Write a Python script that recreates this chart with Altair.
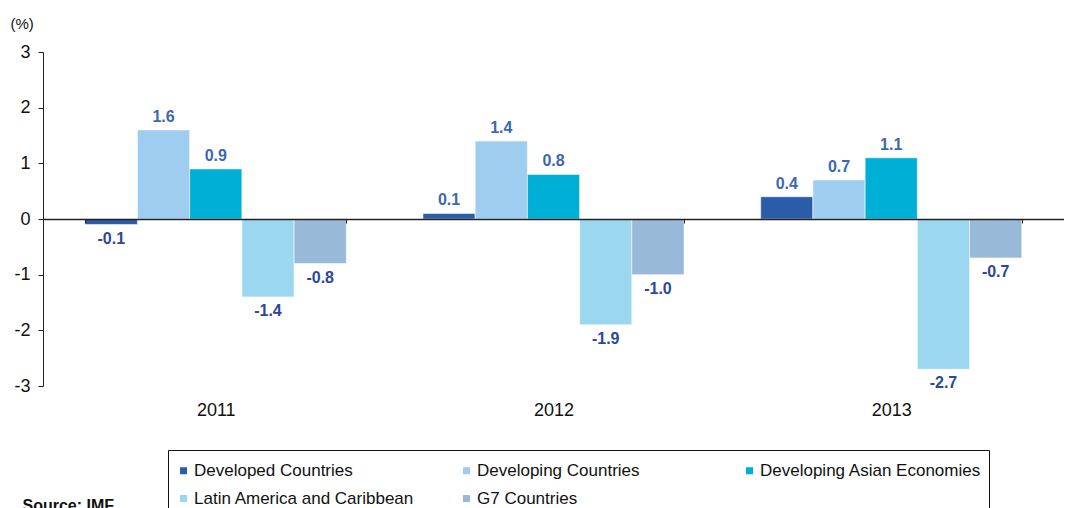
import altair as alt
import pandas as pd

years = ["2011", "2012", "2013"]
series = ["Developed Countries", "Developing Countries", "Developing Asian Economies",
          "Latin America and Caribbean", "G7 Countries"]
developed = [-0.1, 0.1, 0.4]
developing = [1.6, 1.4, 0.7]
asian = [0.9, 0.8, 1.1]
latin = [-1.4, -1.9, -2.7]
g7 = [-0.8, -1.0, -0.7]
colors = ["#2a5caa", "#9ecdef", "#00afd6", "#9bd8f0", "#98b9d7"]
y_ticks = [-3, -2, -1, 0, 1, 2, 3]

rows = []
for name, vals in zip(series, [developed, developing, asian, latin, g7]):
    for yr, v in zip(years, vals):
        rows.append({"year": yr, "series": name, "value": v})
df = pd.DataFrame(rows)

FONT = "Liberation Sans, Arial, Helvetica, sans-serif"
LABEL_EXPR = "datum.value < 0 ? '-' + format(-datum.value, '.1f') : format(datum.value, '.1f')"

x_enc = alt.X("year:N", sort=years,
              scale=alt.Scale(paddingInner=0.227, paddingOuter=0.125),
              axis=alt.Axis(orient="bottom", offset=-167, domain=True, domainColor="#222",
                            domainWidth=1.3, ticks=True, tickBand="extent", tickSize=4,
                            tickColor="#222", labelPadding=178, labelFontSize=18,
                            labelColor="#111", labelAngle=0, title="Source: IMF",
                            titleX=-21, titleY=278, titleAlign="left", titleBaseline="top",
                            titleFontWeight="bold", titleFontSize=16, titleColor="#111",
                            zindex=1))
xo = alt.XOffset("series:N", sort=series)
y_enc = alt.Y("value:Q", scale=alt.Scale(domain=[-3, 3], nice=False),
              axis=alt.Axis(values=y_ticks, tickSize=5, domainColor="#222", tickColor="#222",
                            labelExpr="datum.value < 0 ? '-' + (-datum.value) : '' + datum.value",
                            labelFontSize=18, labelPadding=8, labelColor="#111", grid=False,
                            title="(%)", titleAngle=0, titleX=-33, titleY=-36,
                            titleAlign="left", titleBaseline="top", titleFontWeight="normal",
                            titleFontSize=15, titleColor="#111"))

bars = alt.Chart(df).mark_bar(stroke="white", strokeWidth=0.8, strokeOpacity=0.7).encode(
    x=x_enc, xOffset=xo, y=y_enc,
    color=alt.Color("series:N", sort=series,
                    scale=alt.Scale(domain=series, range=colors),
                    legend=alt.Legend(orient="none", legendX=125, legendY=398, columns=3,
                                      direction="horizontal",
                                      title=" ", titleFontSize=1, titlePadding=4,
                                      symbolType="square", symbolSize=49,
                                      symbolStrokeWidth=0, labelFontSize=17, labelOffset=2,
                                      rowPadding=10, columnPadding=42, gridAlign="all",
                                      padding=7, strokeColor="#111", fillColor="white",
                                      labelLimit=400, labelColor="#111")))

base = alt.Chart(df).transform_calculate(label=LABEL_EXPR)

pos = base.transform_filter("datum.value >= 0").mark_text(
    baseline="bottom", dy=-5, fontWeight="bold", fontSize=16, color="#3b68b3", font=FONT
).encode(x=alt.X("year:N", sort=years), xOffset=xo, y="value:Q", text="label:N")

neg = base.transform_filter("datum.value < 0").mark_text(
    baseline="top", dy=6, fontWeight="bold", fontSize=16, color="#2c4899", font=FONT
).encode(x=alt.X("year:N", sort=years), xOffset=xo, y="value:Q", text="label:N")

chart = alt.layer(bars, pos, neg).properties(
    width=1021, height=334,
    autosize=alt.AutoSizeParams(type="none"),
    padding={"left": 35, "top": 44, "right": 0, "bottom": 122},
).configure(font=FONT).configure_view(stroke=None)

chart.save("out.html", embed_options={"renderer": "svg", "actions": False})
